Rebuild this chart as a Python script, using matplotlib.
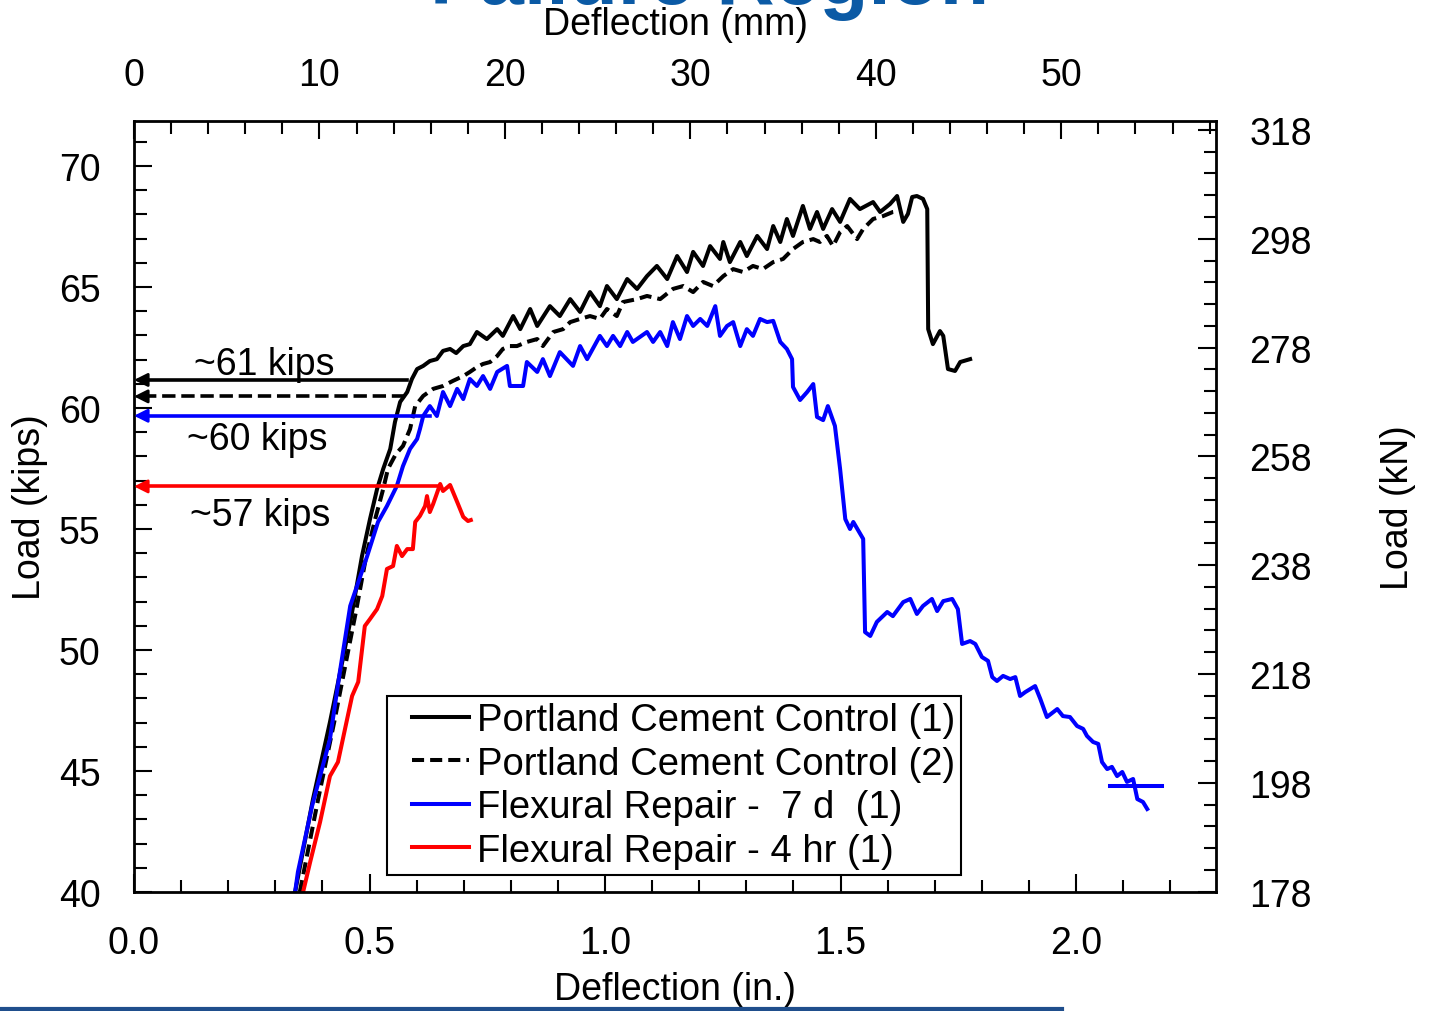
import numpy as np
import matplotlib
matplotlib.use("Agg")
import matplotlib.pyplot as plt
from matplotlib.ticker import MultipleLocator, FixedLocator, FormatStrFormatter
from matplotlib.legend_handler import HandlerLine2D
from matplotlib.lines import Line2D

plt.rcParams['font.family'] = ['Liberation Sans', 'DejaVu Sans']

IN_TO_MM = 25.4
KIP_TO_KN = 4.44822

# Portland Cement Control (1) -- deflection (in.), load (kips)
pc1_x = [0.342, 0.380, 0.416, 0.442, 0.463, 0.484, 0.501, 0.516, 0.529, 0.544, 0.554, 0.565,
         0.580, 0.590, 0.601, 0.614, 0.628, 0.643, 0.656, 0.671, 0.684, 0.699, 0.713, 0.728,
         0.749, 0.771, 0.783, 0.805, 0.820, 0.841, 0.856, 0.883, 0.904, 0.926, 0.947, 0.968,
         0.989, 1.004, 1.025, 1.047, 1.068, 1.089, 1.110, 1.132, 1.153, 1.174, 1.187, 1.208,
         1.223, 1.244, 1.251, 1.265, 1.287, 1.301, 1.323, 1.344, 1.357, 1.372, 1.386, 1.399,
         1.420, 1.435, 1.450, 1.463, 1.482, 1.499, 1.520, 1.541, 1.569, 1.584, 1.605, 1.620,
         1.633, 1.643, 1.652, 1.662, 1.675, 1.684, 1.686, 1.696, 1.711, 1.718, 1.728, 1.743,
         1.754, 1.775]
pc1_y = [40.00, 43.84, 47.02, 49.50, 51.57, 53.88, 55.41, 56.65, 57.48, 58.31, 59.42, 60.25,
         60.66, 61.20, 61.61, 61.74, 61.94, 62.02, 62.36, 62.44, 62.27, 62.56, 62.64, 63.14,
         62.85, 63.26, 62.98, 63.80, 63.26, 64.09, 63.39, 64.21, 63.80, 64.50, 63.97, 64.79,
         64.21, 65.04, 64.50, 65.33, 64.92, 65.45, 65.87, 65.33, 66.28, 65.62, 66.45, 65.87,
         66.69, 66.16, 66.86, 66.03, 66.86, 66.28, 67.11, 66.57, 67.52, 66.86, 67.81, 67.11,
         68.35, 67.40, 68.10, 67.40, 68.22, 67.69, 68.64, 68.22, 68.51, 68.10, 68.43, 68.76,
         67.69, 68.02, 68.72, 68.76, 68.64, 68.22, 63.26, 62.64, 63.18, 62.98, 61.61, 61.53,
         61.90, 62.02]

# Portland Cement Control (2)
pc2_x = [0.352, 0.391, 0.425, 0.450, 0.471, 0.493, 0.512, 0.529, 0.539, 0.556, 0.571, 0.586,
         0.597, 0.614, 0.635, 0.656, 0.677, 0.699, 0.713, 0.728, 0.741, 0.756, 0.771, 0.783,
         0.798, 0.813, 0.834, 0.856, 0.868, 0.890, 0.911, 0.926, 0.947, 0.968, 0.989, 1.004,
         1.025, 1.038, 1.068, 1.089, 1.117, 1.144, 1.166, 1.187, 1.208, 1.229, 1.251, 1.272,
         1.293, 1.314, 1.335, 1.357, 1.378, 1.399, 1.420, 1.442, 1.456, 1.471, 1.484, 1.499,
         1.514, 1.535, 1.548, 1.569, 1.590, 1.611, 1.626]
pc2_y = [40.00, 43.84, 47.02, 49.50, 51.57, 53.88, 55.41, 56.65, 57.48, 58.10, 58.43, 59.13,
         60.08, 60.50, 60.79, 60.91, 61.12, 61.32, 61.49, 61.69, 61.82, 61.90, 62.15, 62.44,
         62.56, 62.56, 62.73, 62.85, 62.56, 63.14, 63.26, 63.55, 63.68, 63.80, 63.68, 64.09,
         63.80, 64.38, 64.50, 64.63, 64.50, 64.92, 65.04, 64.79, 65.21, 65.04, 65.45, 65.74,
         65.62, 65.87, 65.74, 66.03, 66.16, 66.57, 66.86, 66.98, 66.86, 67.11, 66.69, 67.27,
         67.52, 66.98, 67.40, 67.81, 67.93, 68.10, 68.14]

# Flexural Repair - 7 d (1)
fr7_x = [0.342, 0.348, 0.378, 0.416, 0.437, 0.459, 0.495, 0.518, 0.537, 0.558, 0.571, 0.586,
         0.601, 0.607, 0.614, 0.628, 0.643, 0.656, 0.671, 0.686, 0.699, 0.713, 0.728, 0.741,
         0.756, 0.771, 0.792, 0.798, 0.826, 0.834, 0.856, 0.868, 0.883, 0.904, 0.932, 0.947,
         0.962, 0.989, 1.004, 1.017, 1.032, 1.047, 1.059, 1.089, 1.102, 1.117, 1.132, 1.144,
         1.159, 1.174, 1.187, 1.202, 1.217, 1.234, 1.244, 1.259, 1.272, 1.287, 1.301, 1.314,
         1.329, 1.344, 1.357, 1.372, 1.386, 1.397, 1.399, 1.414, 1.429, 1.442, 1.450, 1.463,
         1.473, 1.488, 1.499, 1.510, 1.520, 1.527, 1.548, 1.552, 1.563, 1.577, 1.599, 1.611,
         1.633, 1.648, 1.662, 1.675, 1.694, 1.705, 1.718, 1.737, 1.749, 1.758, 1.775, 1.786,
         1.800, 1.813, 1.822, 1.832, 1.845, 1.860, 1.871, 1.881, 1.892, 1.913, 1.924, 1.938,
         1.960, 1.972, 1.987, 2.002, 2.015, 2.023, 2.036, 2.047, 2.055, 2.066, 2.076, 2.087,
         2.098, 2.108, 2.121, 2.130, 2.142, 2.151]
fr7_y = [40.00, 40.83, 43.55, 46.32, 49.09, 51.82, 53.88, 55.29, 55.95, 56.78, 57.60, 58.31,
         58.72, 59.13, 59.67, 60.08, 59.67, 60.66, 60.08, 60.79, 60.37, 61.20, 60.91, 61.32,
         60.79, 61.49, 61.74, 60.91, 60.91, 61.90, 61.49, 62.02, 61.32, 62.31, 61.74, 62.56,
         62.02, 62.98, 62.56, 62.98, 62.56, 63.14, 62.73, 63.14, 62.73, 63.14, 62.56, 63.55,
         62.85, 63.80, 63.39, 63.68, 63.39, 64.21, 62.98, 63.39, 63.55, 62.56, 63.26, 62.98,
         63.68, 63.55, 63.60, 62.73, 62.44, 62.02, 60.87, 60.33, 60.66, 60.99, 59.63, 59.50,
         60.08, 59.26, 57.48, 55.41, 55.00, 55.29, 54.59, 50.74, 50.58, 51.16, 51.57, 51.40,
         51.98, 52.11, 51.49, 51.82, 52.11, 51.61, 52.02, 52.11, 51.69, 50.25, 50.37, 50.25,
         49.71, 49.55, 48.88, 48.72, 48.93, 48.80, 48.88, 48.10, 48.26, 48.51, 47.98, 47.23,
         47.56, 47.27, 47.23, 46.86, 46.74, 46.45, 46.20, 46.12, 45.37, 45.08, 45.17, 44.79,
         44.96, 44.55, 44.67, 43.84, 43.72, 43.43]
fr7_tail_x = [2.072, 2.183]
fr7_tail_y = [44.38, 44.38]

# Flexural Repair - 4 hr (1)
fr4_x = [0.359, 0.374, 0.395, 0.416, 0.433, 0.448, 0.463, 0.476, 0.490, 0.501, 0.516, 0.527,
         0.537, 0.550, 0.558, 0.569, 0.580, 0.592, 0.597, 0.607, 0.618, 0.622, 0.628, 0.635,
         0.641, 0.650, 0.656, 0.671, 0.686, 0.699, 0.709, 0.715]
fr4_y = [40.00, 41.24, 42.89, 44.79, 45.37, 46.74, 48.10, 48.68, 50.99, 51.28, 51.69, 52.23,
         53.35, 53.47, 54.30, 53.88, 54.17, 54.17, 55.29, 55.54, 55.95, 56.36, 55.70, 56.03,
         56.36, 56.86, 56.57, 56.82, 56.12, 55.50, 55.33, 55.37]

# peak-load callouts
peak_y = [61.16, 60.48, 59.68, 56.76]
peak_x_end = [0.580, 0.580, 0.628, 0.643]
peak_colors = ['black', 'black', 'blue', 'red']
peak_styles = ['-', '--', '-', '-']
peak_labels = ['~61 kips', '~60 kips', '~57 kips']
peak_label_x = [0.277, 0.261, 0.268]
peak_label_y = [61.82, 58.72, 55.58]

fig = plt.figure(figsize=(14.31, 10.12), dpi=100)
ax = fig.add_axes([134 / 1431, 1 - 893 / 1012, 1082 / 1431, 771 / 1012])

lw = 2.9
ax.plot(pc1_x, pc1_y, color='black', lw=lw, label='Portland Cement Control (1)')
ax.plot(pc2_x, pc2_y, color='black', lw=lw, ls=(0, (3.0, 1.5)), label='Portland Cement Control (2)')
ax.plot(fr7_x, fr7_y, color='blue', lw=lw, label='Flexural Repair -  7 d  (1)')
ax.plot(fr7_tail_x, fr7_tail_y, color='blue', lw=lw)
ax.plot(fr4_x, fr4_y, color='red', lw=lw, label='Flexural Repair - 4 hr (1)')

for y, xe, c, s in zip(peak_y, peak_x_end, peak_colors, peak_styles):
    ax.plot([0.02, xe], [y, y], color=c, lw=2.6, ls=s)
    ax.annotate('', xy=(0, y), xytext=(0.03, y),
                arrowprops=dict(arrowstyle='-|>', color=c, lw=2, mutation_scale=20,
                                shrinkA=0, shrinkB=0))
for t, x, y in zip(peak_labels, peak_label_x, peak_label_y):
    ax.text(x, y, t, ha='center', va='center', fontsize=27)

ax.set_xlim(0, 2.297)
ax.set_ylim(40, 71.86)

fs = 27
ax.xaxis.set_major_locator(MultipleLocator(0.5))
ax.xaxis.set_minor_locator(MultipleLocator(0.1))
ax.xaxis.set_major_formatter(FormatStrFormatter('%.1f'))
ax.yaxis.set_major_locator(MultipleLocator(5))
ax.yaxis.set_minor_locator(MultipleLocator(1))
ax.tick_params(which='both', direction='in', top=False, right=False, width=1.5,
               labelsize=fs, pad=24)
ax.tick_params(which='major', length=13)
ax.tick_params(which='minor', length=9)
for sp in ax.spines.values():
    sp.set_linewidth(2)

ax.set_xlabel('Deflection (in.)', fontsize=fs, va='center')
ax.set_ylabel('Load (kips)', fontsize=fs, va='center')
ax.xaxis.set_label_coords(0.5, -0.1258)
ax.yaxis.set_label_coords(-0.0961, 0.5)

ax_top = ax.secondary_xaxis('top', functions=(lambda x: x * IN_TO_MM, lambda x: x / IN_TO_MM))
ax_top.xaxis.set_major_locator(MultipleLocator(10))
ax_top.xaxis.set_minor_locator(MultipleLocator(2))
ax_top.tick_params(which='both', direction='in', width=1.5, labelsize=fs, pad=20)
ax_top.tick_params(which='major', length=13)
ax_top.tick_params(which='minor', length=9)
ax_top.set_xlabel('Deflection (mm)', fontsize=fs, va='center')
ax_top.xaxis.set_label_coords(0.5, 1.1258, transform=ax.transAxes)

ax_r = ax.secondary_yaxis('right', functions=(lambda y: y * KIP_TO_KN, lambda y: y / KIP_TO_KN))
ax_r.yaxis.set_major_locator(FixedLocator(np.arange(178, 320, 20)))
ax_r.yaxis.set_minor_locator(FixedLocator(np.arange(178, 320, 4)))
ax_r.tick_params(which='both', direction='in', width=1.5, labelsize=fs, pad=24)
ax_r.tick_params(which='major', length=13)
ax_r.tick_params(which='minor', length=9)
ax_r.set_ylabel('Load (kN)', fontsize=fs, va='center')
ax_r.yaxis.set_label_coords(1.168, 0.5, transform=ax.transAxes)

leg = ax.legend(loc='upper left', bbox_to_anchor=(0.234, 0.254), fontsize=27.5,
                frameon=True, fancybox=False, edgecolor='black', framealpha=1,
                borderaxespad=0, handlelength=2.0, handletextpad=0.2,
                labelspacing=0.2, borderpad=0.15,
                handler_map={Line2D: HandlerLine2D(xpad=0.5)})
leg.get_frame().set_linewidth(1.5)

# slide header remnants
fig.text(0.496, 1 - 4 / 1012, 'Failure Region', ha='center', va='baseline',
         fontsize=58, fontweight='bold', color='#0b5aa5')
fig.add_artist(Line2D([0, 1062 / 1431], [1 - 1010 / 1012] * 2, transform=fig.transFigure,
                      color='#1f4e8c', lw=3))

fig.savefig('out.png', dpi=100)
